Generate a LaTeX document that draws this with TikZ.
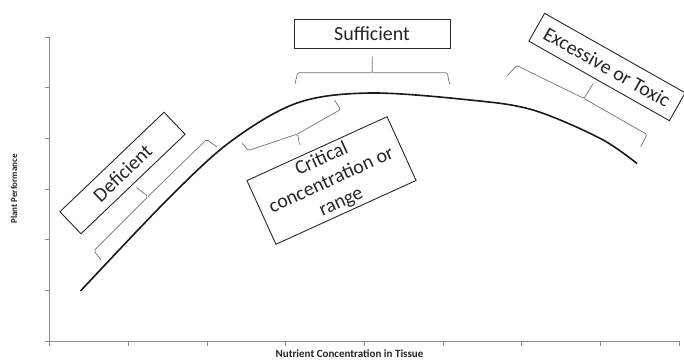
\documentclass[tikz,border=0pt]{standalone}
\usepackage{fontspec}
\setmainfont{Carlito}
\begin{document}
\begin{tikzpicture}[x=1pt,y=-1pt,
  labelbox/.style={draw=black!85, line width=0.9pt, text=black!85, inner sep=0pt, align=center,
    font=\fontsize{20}{23.5}\selectfont},
  bracket/.style={draw=black!55, line width=0.7pt, rounded corners=1.5pt},
  axisline/.style={draw=black!45, line width=0.8pt},
  curveline/.style={draw=black!90, line width=1.6pt},
  axislabel/.style={font=\bfseries\fontsize{9}{11}\selectfont, text=black!85, inner sep=0pt}]
\useasboundingbox (0,0) rectangle (684,360);

% axes
\coordinate (o) at (49.5,341);
\coordinate (ytop) at (49.5,37);
\coordinate (xend) at (679.2,341);
\draw[axisline] (ytop) -- (o) -- (xend);
\foreach \yy in {37,87.67,138.33,189,239.67,290.33,341}
  \draw[axisline] (45,\yy) -- (49.5,\yy);
\foreach \xx in {49.5,128.2,206.9,285.6,364.3,443.1,521.8,600.5,679.2}
  \draw[axisline] (\xx,341) -- (\xx,345.5);
\node[axislabel, rotate=90] (ylab) at (14,189) {Plant Performance};
\node[axislabel, font=\bfseries\fontsize{11}{13}\selectfont] (xlab) at (349.5,354) {Nutrient Concentration in Tissue};

% response curve
\draw[curveline] plot[smooth, tension=0.55] coordinates {
  (80.5,291) (167,200) (230,142) (297,103) (370,93)
  (470,100) (533,110) (600,138.3) (637,163.5)};

% boxes
\node[labelbox, rotate=43.7, minimum width=144pt, minimum height=30.5pt] (def) at (122.5,173) {Deficient};
\node[labelbox, minimum width=156pt, minimum height=29pt] (suf) at (372,33.5) {Sufficient};
\node[labelbox, rotate=24.5, minimum width=154pt, minimum height=70pt] (crit) at (331.5,180.5)
  {Critical\\concentration or\\range};
\node[labelbox, rotate=-29.5, minimum width=161.5pt, minimum height=32pt] (exc) at (607,67) {Excessive or Toxic};

% brackets
\coordinate (dA) at (101,260);   \coordinate (dB) at (94,250.7);
\coordinate (dM) at (148,196.5); \coordinate (dT) at (136.5,187.5);
\coordinate (dC) at (206.5,139.5); \coordinate (dD) at (216.7,146.7);
\draw[bracket] (dA) -- (dB) -- (dM) -- (dT);
\draw[bracket] (dM) -- (dC) -- (dD);

\coordinate (cA) at (242.3,143.3); \coordinate (cB) at (248.3,150.5);
\coordinate (cM) at (297.5,134);   \coordinate (cT) at (299.5,144.5);
\coordinate (cC) at (340.5,109.5); \coordinate (cD) at (334.5,100);
\draw[bracket] (cA) -- (cB) -- (cM) -- (cT);
\draw[bracket] (cM) -- (cC) -- (cD);

\coordinate (sA) at (295,84);   \coordinate (sB) at (297.5,72.7);
\coordinate (sM) at (372.3,72.7); \coordinate (sT) at (372.3,56.7);
\coordinate (sC) at (447.3,72.7); \coordinate (sD) at (449.5,84);
\draw[bracket] (sA) -- (sB) -- (sM) -- (sT);
\draw[bracket] (sM) -- (sC) -- (sD);

\coordinate (eA) at (507.3,75.7); \coordinate (eB) at (516.7,65.5);
\coordinate (eM) at (584,98.5);   \coordinate (eT) at (593.3,83.3);
\coordinate (eC) at (647,134.5);  \coordinate (eD) at (640.7,146.7);
\draw[bracket] (eA) -- (eB) -- (eM) -- (eT);
\draw[bracket] (eM) -- (eC) -- (eD);
\end{tikzpicture}
\end{document}
